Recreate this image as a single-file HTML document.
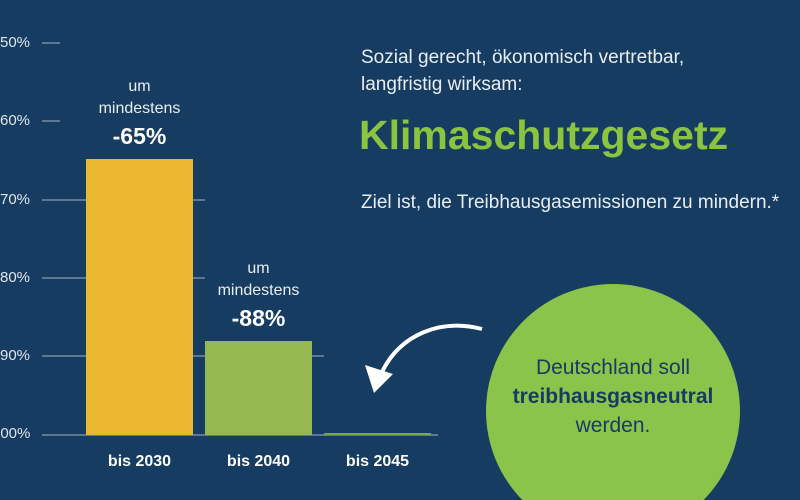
<!DOCTYPE html>
<html style="overflow:hidden"><head><meta charset="utf-8"><style>
html,body{margin:0;width:800px;height:500px;overflow:hidden}
body{background:#163c62;font-family:"Liberation Sans",sans-serif;position:relative}
.t{position:absolute;color:#fff;white-space:nowrap}
</style></head><body>
<svg width="800" height="500" style="position:absolute;left:0;top:0;display:block">
<circle cx="613" cy="411" r="127" fill="#8bc44b"/>
<g stroke="#8a9bb0" stroke-width="1.3">
<line x1="42" y1="43" x2="60" y2="43"/>
<line x1="42" y1="121" x2="60" y2="121"/>
<line x1="42" y1="200" x2="205" y2="200"/>
<line x1="42" y1="278" x2="205" y2="278"/>
<line x1="42" y1="356" x2="324" y2="356"/>
<line x1="42" y1="435" x2="438" y2="435"/>
</g>
<rect x="86" y="159" width="107" height="276" fill="#ebb72e"/>
<rect x="205" y="341" width="107" height="94" fill="#95b950"/>
<rect x="324" y="433" width="107" height="2" fill="#7aa83f"/>
<path d="M482,329 C440,318 400,335 382,372" fill="none" stroke="#fff" stroke-width="4"/>
<polygon points="365,365 393,374 374,393" fill="#fff"/>
</svg>
<div class="t" style="left:0;top:34px;font-size:15px;color:#dfe5ec">50%</div>
<div class="t" style="left:0;top:112px;font-size:15px;color:#dfe5ec">60%</div>
<div class="t" style="left:0;top:191px;font-size:15px;color:#dfe5ec">70%</div>
<div class="t" style="left:0;top:269px;font-size:15px;color:#dfe5ec">80%</div>
<div class="t" style="left:0;top:347px;font-size:15px;color:#dfe5ec">90%</div>
<div class="t" style="left:-8px;top:425px;font-size:15px;color:#dfe5ec">100%</div>
<div class="t" style="left:86px;width:107px;text-align:center;top:76px;font-size:16px;line-height:22px;color:#e8edf2">um<br>mindestens</div>
<div class="t" style="left:86px;width:107px;text-align:center;top:123px;font-size:23px;font-weight:bold">-65%</div>
<div class="t" style="left:205px;width:107px;text-align:center;top:258px;font-size:16px;line-height:22px;color:#e8edf2">um<br>mindestens</div>
<div class="t" style="left:205px;width:107px;text-align:center;top:305px;font-size:23px;font-weight:bold">-88%</div>
<div class="t" style="left:86px;width:107px;text-align:center;top:453px;font-size:16px;font-weight:bold">bis 2030</div>
<div class="t" style="left:205px;width:107px;text-align:center;top:453px;font-size:16px;font-weight:bold">bis 2040</div>
<div class="t" style="left:324px;width:107px;text-align:center;top:453px;font-size:16px;font-weight:bold">bis 2045</div>
<div class="t" style="left:361px;top:44px;font-size:19px;line-height:27px;color:#e8edf2">Sozial gerecht, ökonomisch vertretbar,<br>langfristig wirksam:</div>
<div class="t" style="left:359px;top:112px;font-size:41px;font-weight:bold;color:#8bc43f">Klimaschutzgesetz</div>
<div class="t" style="left:361px;top:192px;font-size:19px;color:#e8edf2">Ziel ist, die Treibhausgasemissionen zu mindern.*</div>
<div class="t" style="left:486px;width:254px;text-align:center;top:353px;font-size:21px;line-height:29px;color:#163c62">Deutschland soll<br><b>treibhausgasneutral</b><br>werden.</div>
</body></html>
